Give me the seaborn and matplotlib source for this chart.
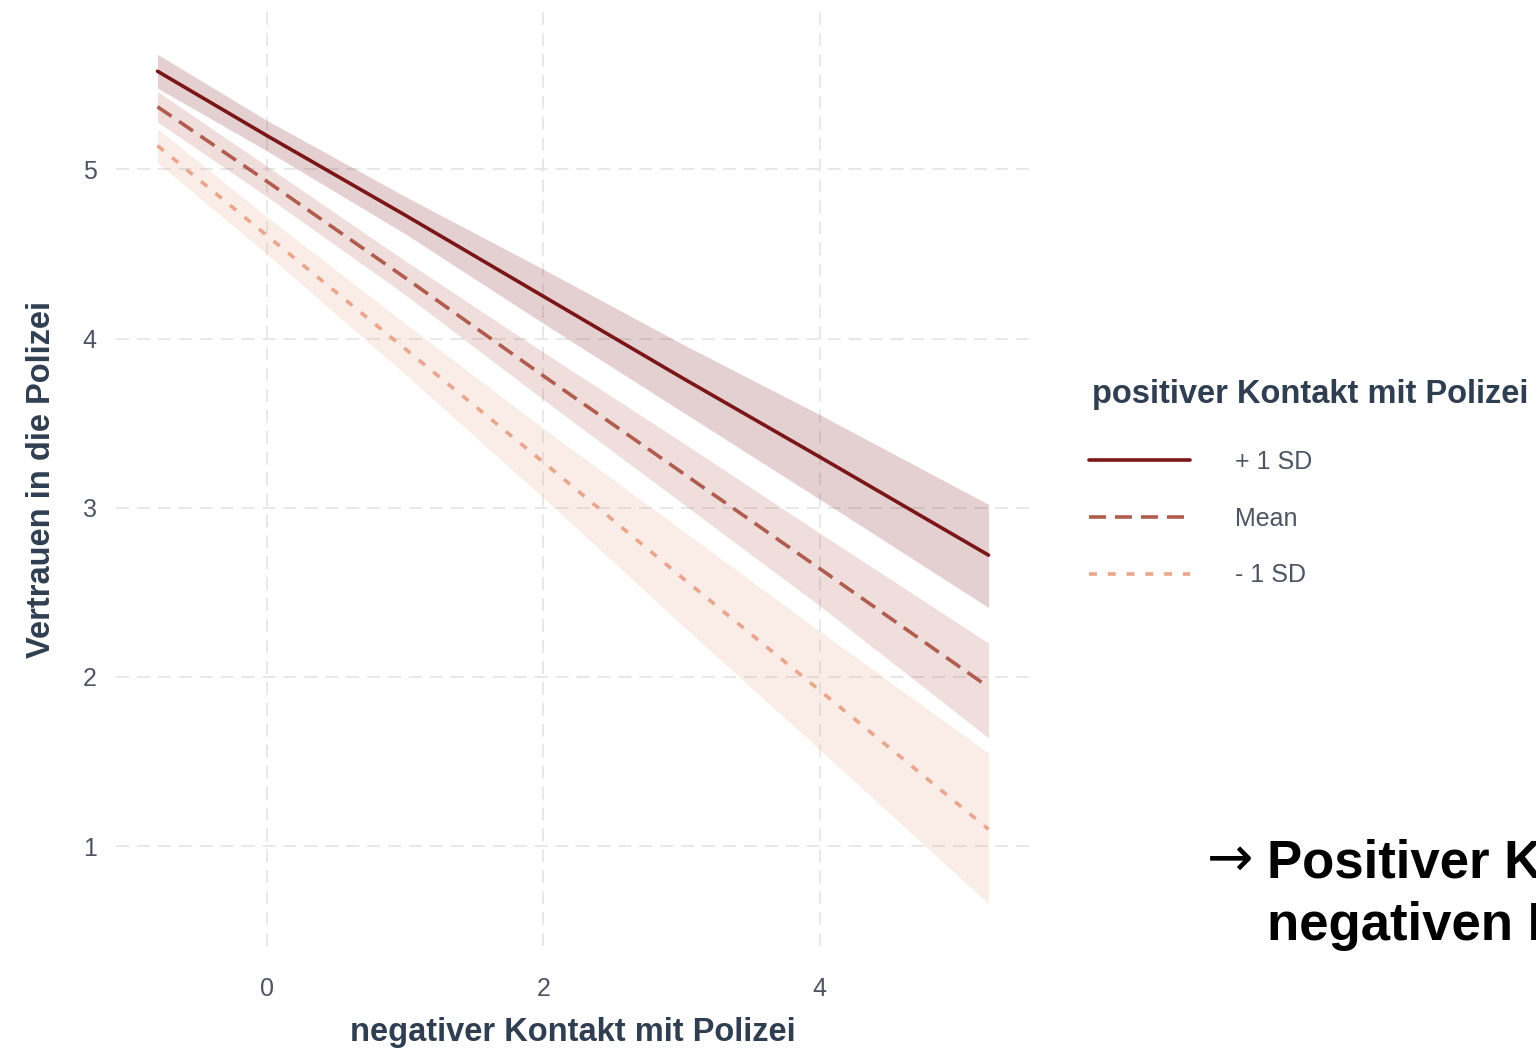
import numpy as np
import pandas as pd
import matplotlib
matplotlib.use("Agg")
import matplotlib.pyplot as plt
from matplotlib.lines import Line2D
import seaborn as sns

# Simple slopes: trust in police vs. negative contact, at three levels of positive contact
levels = ["+ 1 SD", "Mean", "- 1 SD"]
line_colors = ["#7b1618", "#b05c4e", "#e9a68c"]

neg_contact = [-0.79, 0.0, 1.0, 2.0, 3.0, 4.0, 5.22]

trust_plus = [5.58, 5.20, 4.73, 4.25, 3.77, 3.30, 2.72]
trust_mean = [5.37, 4.93, 4.36, 3.78, 3.21, 2.64, 1.94]
trust_minus = [5.14, 4.61, 3.94, 3.27, 2.59, 1.92, 1.10]

upper_plus = [5.68, 5.29, 4.84, 4.41, 3.97, 3.55, 3.02]
lower_plus = [5.48, 5.11, 4.62, 4.09, 3.57, 3.05, 2.41]
upper_mean = [5.46, 5.02, 4.46, 3.92, 3.39, 2.85, 2.20]
lower_mean = [5.28, 4.84, 4.26, 3.64, 3.03, 2.42, 1.64]
upper_minus = [5.24, 4.72, 4.09, 3.47, 2.87, 2.27, 1.55]
lower_minus = [5.04, 4.50, 3.79, 3.06, 2.31, 1.57, 0.66]

x_ticks = [0, 2, 4]
y_ticks = [1, 2, 3, 4, 5]

x_title = "negativer Kontakt mit Polizei"
y_title = "Vertrauen in die Polizei"
legend_title = "positiver Kontakt mit Polizei"
note_lines = ["Positiver Kontakt", "negativen Effekt"]

sns.set_theme(style="white")
plt.rcParams["font.family"] = ["Liberation Sans", "DejaVu Sans"]

title_color = "#2f3e50"
tick_color = "#4d5464"

df = pd.DataFrame({
    "x": neg_contact * 3,
    "y": trust_plus + trust_mean + trust_minus,
    "level": np.repeat(levels, len(neg_contact)),
})

dash_map = {"+ 1 SD": "", "Mean": (4.7, 2.5), "- 1 SD": (2.2, 3.0)}
lw = 2.6

fig = plt.figure(figsize=(15.36, 10.51), dpi=100)
ax = fig.add_axes([116 / 1536, 1 - 946 / 1051, 914 / 1536, 934 / 1051])

bands = [(lower_plus, upper_plus), (lower_mean, upper_mean), (lower_minus, upper_minus)]
for (lo, hi), c in zip(bands, line_colors):
    ax.fill_between(neg_contact, lo, hi, color=c, alpha=0.2, linewidth=0)

sns.lineplot(data=df, x="x", y="y", hue="level", style="level",
             hue_order=levels, style_order=levels, palette=line_colors,
             dashes=dash_map, linewidth=lw, estimator=None, sort=False,
             legend=False, ax=ax)

ax.set_xlim(-1.09, 5.52)
ax.set_ylim(0.41, 5.93)
ax.set_xticks(x_ticks)
ax.set_yticks(y_ticks)
ax.set_xticklabels([str(t) for t in x_ticks])
ax.set_yticklabels([str(t) for t in y_ticks])
ax.grid(True, color="#e2e2e2", linestyle=(0, (8.5, 5.2)), linewidth=1.1)
ax.set_axisbelow(True)
for s in ax.spines.values():
    s.set_visible(False)
ax.tick_params(axis="both", length=0, labelsize=18, labelcolor=tick_color)
ax.tick_params(axis="x", pad=22)
ax.tick_params(axis="y", pad=14)

ax.set_xlabel(x_title, fontsize=23.5, fontweight="bold", color=title_color)
ax.set_ylabel(y_title, fontsize=23.5, fontweight="bold", color=title_color)
ax.xaxis.label.set_va("center")
ax.yaxis.label.set_va("center")
ax.xaxis.set_label_coords(0.5, (946 - 1033) / 934)
ax.yaxis.set_label_coords((42 - 116) / 914, 0.5)

# Legend: title as its own text, keys below it
fig.text(1092 / 1536, 1 - 403 / 1051, legend_title, fontsize=23.5,
         fontweight="bold", color=title_color, va="baseline", ha="left")
handles = [Line2D([], [], color=c, linewidth=lw) for c in line_colors]
handles[1].set_dashes(dash_map["Mean"])
handles[2].set_dashes(dash_map["- 1 SD"])
leg = fig.legend(handles, levels, loc="upper left",
                 bbox_to_anchor=(1089 / 1536, 1 - 450 / 1051),
                 bbox_transform=fig.transFigure, frameon=False,
                 fontsize=18, handlelength=4.05, handletextpad=1.8,
                 labelspacing=1.31, borderpad=0, borderaxespad=0)
for t in leg.get_texts():
    t.set_color(tick_color)

# Take-away note on the right, running off the edge of the canvas
overlay = fig.add_axes([0, 0, 1, 1], facecolor="none")
overlay.set_axis_off()
overlay.text(1207 / 1536, 1 - 876 / 1051, "\u2192", fontsize=40,
             family=["DejaVu Sans"], color="black", va="baseline",
             transform=overlay.transAxes, clip_on=True)
overlay.text(1267 / 1536, 1 - 877 / 1051, note_lines[0], fontsize=38,
             fontweight="bold", color="black", va="baseline",
             transform=overlay.transAxes, clip_on=True)
overlay.text(1267 / 1536, 1 - 940 / 1051, note_lines[1], fontsize=38,
             fontweight="bold", color="black", va="baseline",
             transform=overlay.transAxes, clip_on=True)

fig.savefig("out.png", dpi=100)
